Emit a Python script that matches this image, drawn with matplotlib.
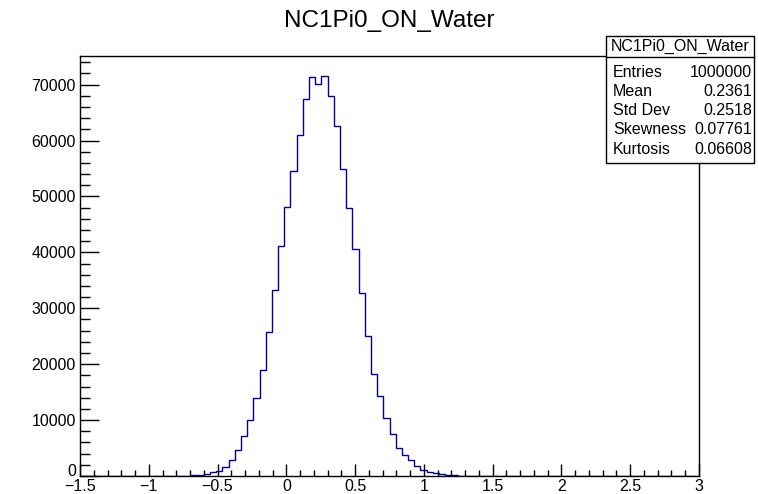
import numpy as np
import matplotlib
matplotlib.use("Agg")
import matplotlib.pyplot as plt
from matplotlib.patches import Rectangle
from matplotlib.lines import Line2D
from matplotlib.ticker import MultipleLocator, FuncFormatter

plt.rcParams['font.family'] = ['Liberation Sans', 'DejaVu Sans']

# histogram: 100 bins on [-1.5, 3]
x_min, x_max, n_bins = -1.5, 3.0, 100
title = "NC1Pi0_ON_Water"

# bin contents (bins 15..65, rest empty)
first_bin = 15
counts_read = [
    10, 20, 50, 100, 200, 400, 650, 950, 1600, 2800,        # 15-24
    4600, 7140, 10050, 13870, 18930, 25770, 33340, 41070,   # 25-32
    48040, 54590, 60950, 67380, 71430, 70120, 71550, 67980, # 33-40
    62680, 54940, 47860, 40660, 32800, 25120, 18330, 14340, # 41-48
    10410, 7500, 4940, 3720, 2890, 1760, 1100, 710,         # 49-56
    475, 300, 200, 120, 70, 35, 15, 8, 3,                   # 57-65
]

stats_labels = ["Entries", "Mean", "Std Dev", "Skewness", "Kurtosis"]
stats_values = ["1000000", "0.2361", "0.2518", "0.07761", "0.06608"]
y_ticks = [0, 10000, 20000, 30000, 40000, 50000, 60000, 70000]

counts = np.zeros(n_bins)
counts[first_bin:first_bin + len(counts_read)] = counts_read
edges = np.linspace(x_min, x_max, n_bins + 1)

W, H = 758, 494
fig = plt.figure(figsize=(W / 100, H / 100), dpi=100)
# frame in pixels: left 80, right 699, top 56, bottom 476
ax = fig.add_axes([80 / W, 1 - 476 / H, 619 / W, 420 / H])

ax.stairs(counts, edges, color='#000099', linewidth=1.0)
ax.set_xlim(x_min, x_max)
ax.set_ylim(0, 1.05 * counts.max())

ax.xaxis.set_major_locator(MultipleLocator(0.5))
ax.xaxis.set_minor_locator(MultipleLocator(0.1))
ax.set_yticks(y_ticks, [str(v) for v in y_ticks])
ax.yaxis.set_minor_locator(MultipleLocator(2000))
ax.xaxis.set_major_formatter(FuncFormatter(lambda v, p: ('%g' % v).replace('-', '\u2212')))
ax.tick_params(axis='x', which='major', direction='in', length=9, width=1, labelsize=11.5, pad=2)
ax.tick_params(axis='x', which='minor', direction='in', length=4.5, width=1)
ax.tick_params(axis='y', which='major', direction='in', length=14, width=1, labelsize=11.5, pad=3)
ax.tick_params(axis='y', which='minor', direction='in', length=7, width=1)
# ROOT lifts the "0" label above the x labels
ax.get_yticklabels()[0].set_va('baseline')
for sp in ax.spines.values():
    sp.set_linewidth(1)

fig.text(389 / W, 1 - 21 / H, title, ha='center', va='center', fontsize=17.5)

# stats box
bx0, bx1, by0, by1, bsep = 606, 754, 36, 163, 57
fig.add_artist(Rectangle((bx0 / W, 1 - by1 / H), (bx1 - bx0) / W, (by1 - by0) / H,
                         transform=fig.transFigure, facecolor='white',
                         edgecolor='black', linewidth=1, zorder=5))
fig.add_artist(Line2D([bx0 / W, bx1 / W], [1 - bsep / H, 1 - bsep / H],
                      transform=fig.transFigure, color='black', linewidth=1, zorder=6))
fig.text((bx0 + bx1) / 2 / W, 1 - (by0 + bsep) / 2 / H, title,
         ha='center', va='center', fontsize=11.5, zorder=7)
for i, (lab, val) in enumerate(zip(stats_labels, stats_values)):
    yc = 1 - (72 + 19.3 * i) / H
    fig.text(613 / W, yc, lab, ha='left', va='center', fontsize=11.5, zorder=7)
    fig.text(752 / W, yc, val, ha='right', va='center', fontsize=11.5, zorder=7)

fig.savefig("out.png", dpi=100)
